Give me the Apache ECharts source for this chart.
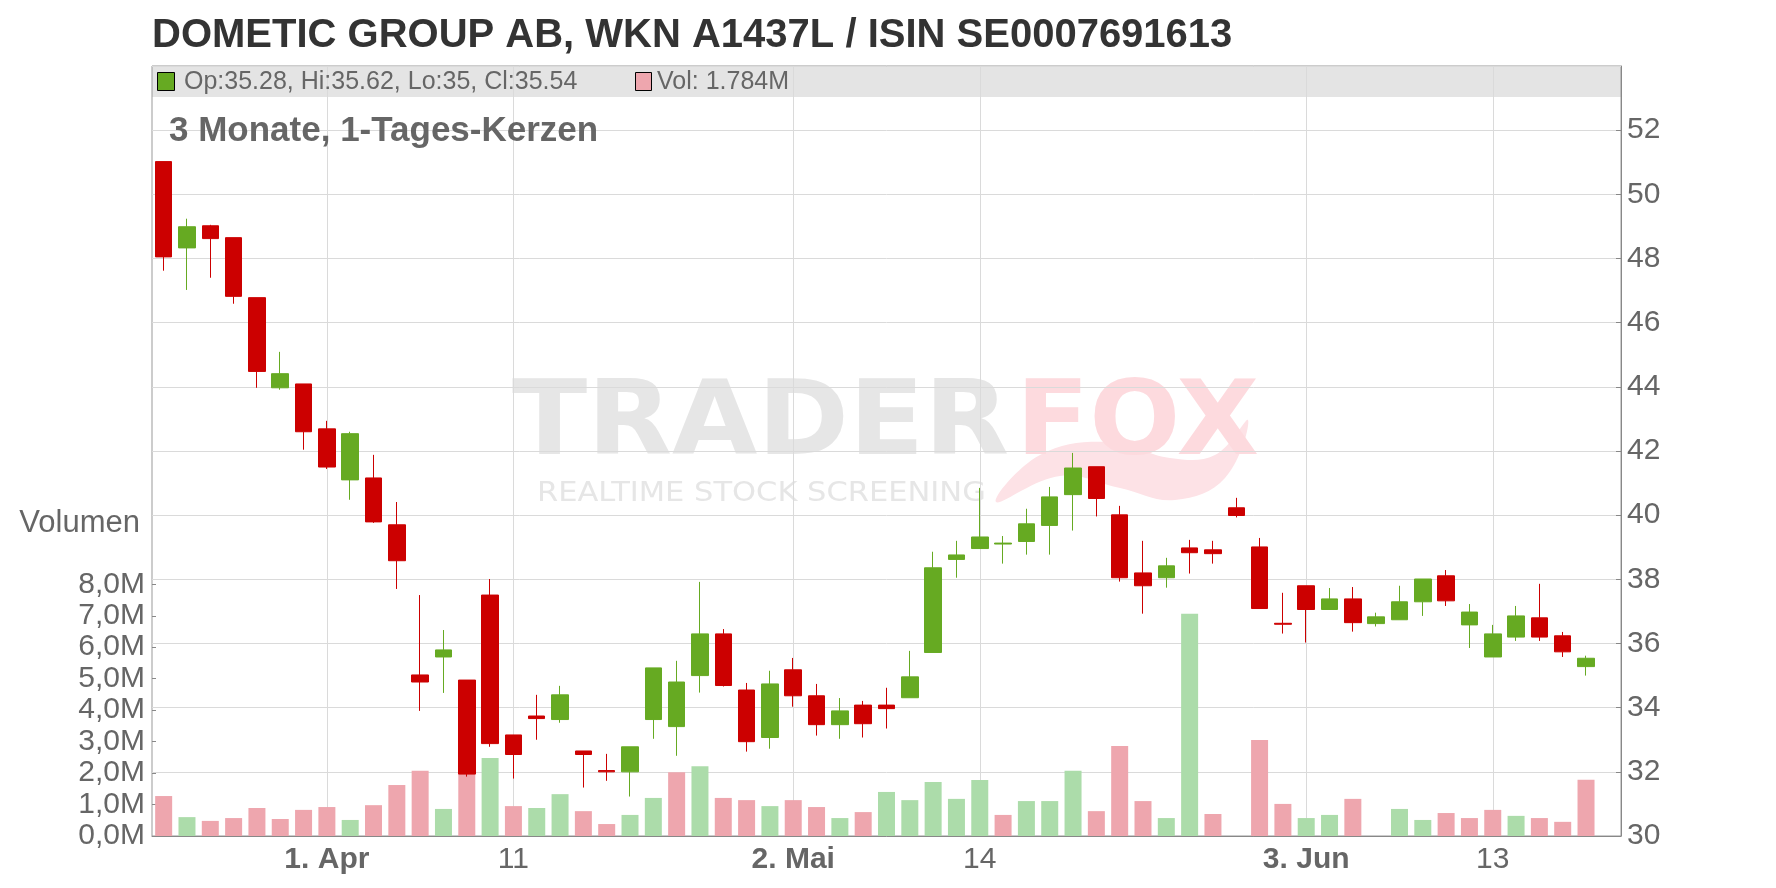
<!DOCTYPE html>
<html>
<head>
<meta charset="utf-8">
<script src="https://cdn.jsdelivr.net/npm/echarts@6/dist/echarts.min.js"></script>
<style>html,body{margin:0;padding:0;background:#fff}#c{width:1776px;height:888px}</style>
</head>
<body>
<div id="c"></div>
<script>
// ---- data ----
const dates = [
 '2025-03-21','2025-03-24','2025-03-25','2025-03-26','2025-03-27','2025-03-28','2025-03-31',
 '2025-04-01','2025-04-02','2025-04-03','2025-04-04','2025-04-07','2025-04-08','2025-04-09',
 '2025-04-10','2025-04-11','2025-04-14','2025-04-15','2025-04-16','2025-04-17','2025-04-22',
 '2025-04-23','2025-04-24','2025-04-25','2025-04-28','2025-04-29','2025-04-30','2025-05-02',
 '2025-05-05','2025-05-06','2025-05-07','2025-05-08','2025-05-09','2025-05-12','2025-05-13',
 '2025-05-14','2025-05-15','2025-05-16','2025-05-19','2025-05-20','2025-05-21','2025-05-22',
 '2025-05-23','2025-05-26','2025-05-27','2025-05-28','2025-05-29','2025-05-30','2025-06-02',
 '2025-06-03','2025-06-04','2025-06-05','2025-06-06','2025-06-09','2025-06-10','2025-06-11',
 '2025-06-12','2025-06-13','2025-06-16','2025-06-17','2025-06-18','2025-06-19'
];
const opens = [51.02,48.33,49.02,48.65,46.78,43.97,44.09,42.69,41.10,41.16,39.70,35.02,35.58,34.86,
 37.51,33.15,33.74,33.63,32.65,32.04,32.00,33.63,33.41,35.00,36.30,34.55,33.07,35.18,34.37,33.47,
 34.08,34.08,34.31,35.72,38.62,38.96,39.10,39.18,39.68,40.64,41.51,40.01,38.20,38.05,38.98,38.92,
 40.23,39.01,36.63,37.80,37.06,37.39,36.62,36.74,37.30,38.11,36.58,35.58,36.20,36.80,36.24,35.28];
const closes = [48.05,48.99,48.62,46.82,44.48,44.41,42.60,41.50,42.54,39.79,38.58,34.80,35.80,31.93,
 32.88,32.54,33.66,34.40,32.54,32.00,32.78,35.24,34.80,36.30,34.69,32.94,34.74,34.37,33.47,33.90,
 33.50,33.97,34.96,38.36,38.76,39.32,39.13,39.73,40.57,41.47,40.52,38.05,37.80,38.42,38.83,38.80,
 39.99,37.09,36.60,37.06,37.39,36.65,36.83,37.30,38.01,37.33,36.98,36.30,36.86,36.20,35.74,35.54];
const lows = [47.62,47.02,47.40,46.59,43.97,43.91,42.04,41.44,40.48,39.76,37.70,33.90,34.46,31.85,
 32.78,31.79,33.00,33.53,31.51,31.72,31.23,33.03,32.50,34.47,34.66,32.63,32.72,34.03,33.13,33.03,
 33.07,33.35,34.31,35.72,38.05,38.96,38.49,38.77,38.77,39.52,39.96,37.93,36.93,37.74,38.18,38.49,
 39.93,37.09,36.31,36.03,37.06,36.37,36.53,36.74,36.86,37.17,35.86,35.58,36.08,36.08,35.58,35.00];
const highs = [51.02,49.24,49.05,48.65,46.78,45.09,44.09,42.94,42.60,41.88,40.41,37.51,36.42,34.86,
 38.01,33.15,34.40,34.68,32.65,32.56,32.78,35.24,35.46,37.92,36.45,34.77,35.15,35.55,34.74,34.30,
 34.21,34.62,35.77,38.86,39.20,40.85,39.35,40.20,40.88,41.94,41.51,40.29,39.20,38.67,39.23,39.20,
 40.54,39.29,37.58,37.80,37.73,37.76,36.96,37.80,38.01,38.29,37.23,36.58,37.17,37.86,36.36,35.62];
const volumes = [1270000,600000,480000,570000,890000,540000,830000,920000,510000,980000,1620000,
 2070000,860000,2000000,2480000,950000,890000,1330000,790000,380000,670000,1210000,2030000,2220000,
 1210000,1140000,950000,1140000,920000,570000,760000,1400000,1140000,1720000,1180000,1780000,670000,
 1110000,1110000,2070000,790000,2860000,1110000,570000,7060000,700000,null,3050000,1020000,570000,
 670000,1180000,null,860000,510000,730000,570000,830000,640000,570000,450000,1784000];
const tickDates  = ['2025-04-01','2025-04-11','2025-05-02','2025-05-14','2025-06-03','2025-06-13'];
const tickLabels = ['1. Apr','11','2. Mai','14','3. Jun','13'];

// ---- chart ----
const FONT = '"Liberation Sans", Arial, Helvetica, sans-serif';
const UP = '#66aa22', DOWN = '#cc0000', VUP = '#acdcaa', VDOWN = '#eea6ae';

const ohlc = dates.map((d, i) => [opens[i], closes[i], lows[i], highs[i]]);
const volData = volumes.map((v, i) => v == null ? '-' : {
  value: v,
  itemStyle: { color: (i > 0 && closes[i] > closes[i - 1]) ? VUP : VDOWN }
});
const last = dates.length - 1;
const legendText = 'Op:' + opens[last] + ', Hi:' + highs[last] + ', Lo:' + lows[last] + ', Cl:' + closes[last];
const volText = 'Vol: ' + (volumes[last] / 1e6).toFixed(3) + 'M';
const isTick = (idx, val) => tickDates.indexOf(val) >= 0;

function txt(x, y, text, font, fill, align, extra) {
  return Object.assign({
    type: 'text', z: 10, x: x, y: y, silent: true,
    style: { text: text, font: font, fill: fill, align: align, verticalAlign: 'middle' }
  }, extra || {});
}

const chart = echarts.init(document.getElementById('c'));
chart.setOption({
  animation: false,
  backgroundColor: '#ffffff',
  title: {
    text: 'DOMETIC GROUP AB, WKN A1437L / ISIN SE0007691613',
    left: 152, top: 16, padding: 0,
    textStyle: { fontFamily: FONT, fontSize: 40, fontWeight: 'bold', color: '#333333' }
  },
  grid: [
    { left: 152, right: 155, top: 66, bottom: 52, show: true, borderColor: '#999999', borderWidth: 1, backgroundColor: 'transparent' },
    { left: 152, right: 155, top: 584.3, bottom: 52 }
  ],
  xAxis: [
    {
      type: 'category', gridIndex: 0, data: dates, max: 62, boundaryGap: true,
      axisLine: { lineStyle: { color: '#888888' } },
      axisTick: { alignWithLabel: true, interval: isTick, length: 4, lineStyle: { color: '#888888' } },
      axisLabel: {
        interval: isTick, margin: 9, fontFamily: FONT, fontSize: 30, color: '#666666',
        formatter: function (v) {
          const k = tickDates.indexOf(v);
          if (k < 0) return '';
          const t = tickLabels[k];
          return /[A-Za-z]/.test(t) ? '{b|' + t + '}' : t;
        },
        rich: { b: { fontFamily: FONT, fontSize: 30, fontWeight: 'bold', color: '#666666' } }
      },
      splitLine: { show: true, interval: isTick, alignWithLabel: true, lineStyle: { color: '#dadada' } }
    },
    { type: 'category', gridIndex: 1, data: dates, max: 62, boundaryGap: true, show: false }
  ],
  yAxis: [
    {
      type: 'value', gridIndex: 0, position: 'right', min: 30, max: 54, interval: 2,
      axisLine: { show: true, lineStyle: { color: '#888888' } },
      axisTick: { show: true, inside: true, length: 5, lineStyle: { color: '#888888' } },
      axisLabel: { showMaxLabel: false, margin: 6, padding: [4, 0, 0, 0], fontFamily: FONT, fontSize: 30, color: '#666666' },
      splitLine: { show: true, lineStyle: { color: '#dadada' } }
    },
    {
      type: 'value', gridIndex: 1, position: 'left', min: 0, max: 8000000, interval: 1000000,
      axisLine: { show: false },
      axisTick: { show: true, inside: true, length: 4, lineStyle: { color: '#888888' } },
      axisLabel: {
        margin: 7, padding: [2, 0, 0, 0], fontFamily: FONT, fontSize: 30, color: '#666666',
        formatter: v => (v / 1e6).toFixed(1).replace('.', ',') + 'M'
      },
      splitLine: { show: false }
    }
  ],
  series: [
    { type: 'bar', name: 'Vol', xAxisIndex: 1, yAxisIndex: 1, data: volData, barWidth: 17 },
    {
      type: 'candlestick', name: 'Kurs', xAxisIndex: 0, yAxisIndex: 0, data: ohlc, barWidth: 17,
      itemStyle: { color: UP, color0: DOWN, borderColor: UP, borderColor0: DOWN, borderWidth: 1 }
    }
  ],
  graphic: [
    // watermark
    txt(512, 427, 'TRADER', 'bold 104px "DejaVu Sans"', '#e6e6e6', 'left', { z: -10, scaleX: 1.06 }),
    txt(1016, 427, 'FOX', 'bold 104px "DejaVu Sans"', '#fddade', 'left', { z: -10, scaleX: 1.03 }),
    { type: 'polygon', z: -11, silent: true,
      shape: { smooth: 0.4, points: [[996, 502], [1040, 455], [1110, 442], [1170, 458], [1215, 455], [1248, 420], [1225, 478], [1175, 500], [1120, 488], [1060, 476]] },
      style: { fill: '#fde2e6' } },
    txt(537, 494, 'REALTIME STOCK SCREENING', '27px "DejaVu Sans"', '#e6e6e6', 'left', { z: -10, scaleX: 1.13 }),
    // legend bar
    { type: 'rect', z: -5, silent: true, shape: { x: 152, y: 66, width: 1469, height: 31 }, style: { fill: '#e4e4e4' } },
    { type: 'rect', z: 10, silent: true, shape: { x: 157.5, y: 72.5, width: 17, height: 18 }, style: { fill: UP, stroke: '#000000', lineWidth: 1 } },
    txt(184, 82, legendText, '25px ' + FONT, '#666666', 'left'),
    { type: 'rect', z: 10, silent: true, shape: { x: 635.5, y: 72.5, width: 16, height: 18 }, style: { fill: VDOWN, stroke: '#000000', lineWidth: 1 } },
    txt(657, 82, volText, '25px ' + FONT, '#666666', 'left'),
    // subtitle
    txt(169, 131, '3 Monate, 1-Tages-Kerzen', 'bold 35px ' + FONT, '#666666', 'left'),
    // volume axis name
    txt(140, 523, 'Volumen', '31px ' + FONT, '#666666', 'right')
  ]
});
</script>
</body>
</html>
